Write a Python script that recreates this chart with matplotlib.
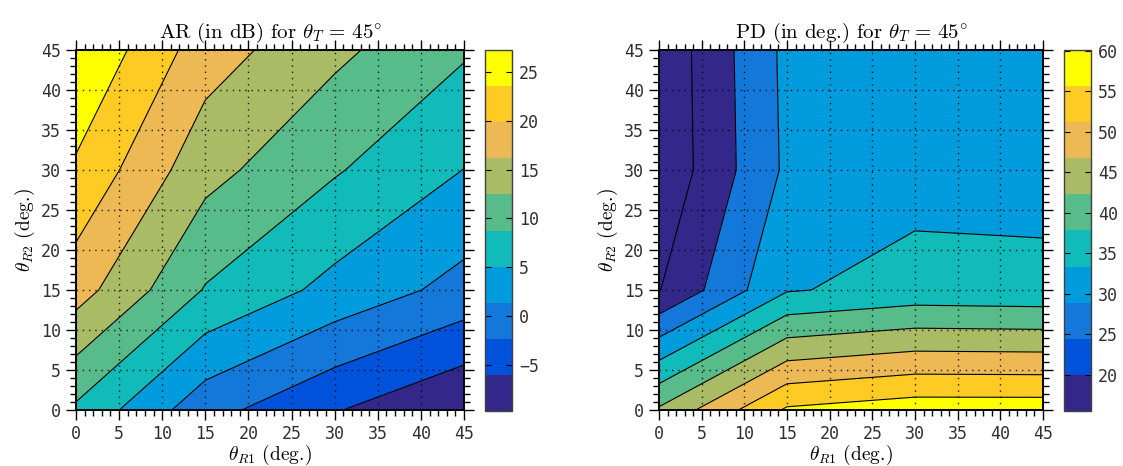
import numpy as np
import matplotlib
matplotlib.use("Agg")
import matplotlib.pyplot as plt
from matplotlib.colors import ListedColormap, Normalize
from matplotlib.ticker import MultipleLocator
import matplotlib.cm as cm

plt.rcParams['mathtext.fontset'] = 'cm'
plt.rcParams['axes.unicode_minus'] = False

# ---------------- data ----------------
theta_r1 = [0, 15, 30, 45]
theta_r2 = [0, 15, 30, 45]

# rows: theta_R2 (0,15,30,45), columns: theta_R1 (0,15,30,45)
ar_db = [
    [8.1, -1.0, -5.8, -9.76],
    [17.8, 8.5, 3.93, 0.1],
    [23.0, 13.7, 9.1, 5.0],
    [27.28, 17.93, 13.3, 9.2],
]
pd_deg = [
    [45.7, 60.7, 62.8, 62.8],
    [19.8, 34.6, 36.7, 36.3],
    [16.0, 30.9, 33.25, 33.3],
    [16.2, 31.2, 33.0, 33.0],
]

ar_cbar_range = [-9.76, 27.28]
pd_cbar_range = [15.55, 60.1]
ar_levels = list(np.linspace(-9.76, 27.28, 11)[1:-1])
pd_levels = [20, 25, 30, 35, 40, 45, 50, 55, 60]
ar_cbar_ticks = [-5, 0, 5, 10, 15, 20, 25]
pd_cbar_ticks = [20, 25, 30, 35, 40, 45, 50, 55, 60]

palette = ['#33288A', '#0052DA', '#1378D9', '#009BDD', '#10BBBA',
           '#57BB8A', '#A9BB65', '#ECB955', '#FECA24', '#FFFF00']
ar_fill_idx = [0, 1, 2, 3, 4, 5, 6, 7, 8, 9]
pd_fill_idx = [0, 0, 2, 3, 4, 5, 6, 7, 8, 9]

ar_title = r'AR (in dB) for $\theta_T\,=\,45^{\circ}$'
pd_title = r'PD (in deg.) for $\theta_T\,=\,45^{\circ}$'
xlab = r'$\theta_{R1}$ (deg.)'
ylab = r'$\theta_{R2}$ (deg.)'

# ---------------- figure ----------------
W, H = 1123, 466
fig = plt.figure(figsize=(W / 100, H / 100), dpi=100)

def fr(x0, y0, x1, y1):
    return [x0 / W, 1 - y1 / H, (x1 - x0) / W, (y1 - y0) / H]

tick_font = dict(family='DejaVu Sans Mono', size=12, color='#303030')
label_font = 'cmr10'

def style_labels(labels):
    for lab in labels:
        lab.set_fontfamily(tick_font['family'])
        lab.set_fontsize(tick_font['size'])
        lab.set_color(tick_font['color'])

def fmt(t):
    return ('\u2212' + str(-t)) if t < 0 else str(t)

def draw(ax_rect, cax_rect, Z, levels, fill_idx, crange, cticks, title):
    ax = fig.add_axes(ax_rect)
    X, Y = np.meshgrid(theta_r1, theta_r2)
    Z = np.array(Z)
    edges = [min(Z.min(), levels[0]) - 1] + list(levels) + [max(Z.max(), levels[-1]) + 1]
    cols = [palette[i] for i in fill_idx]
    ax.contourf(X, Y, Z, levels=edges, colors=cols, zorder=1)
    ax.contour(X, Y, Z, levels=levels, colors='k', linewidths=0.8,
               linestyles='solid', zorder=2)
    ax.set_xlim(0, 45)
    ax.set_ylim(0, 45)
    ax.xaxis.set_major_locator(MultipleLocator(5))
    ax.yaxis.set_major_locator(MultipleLocator(5))
    ax.xaxis.set_minor_locator(MultipleLocator(1))
    ax.yaxis.set_minor_locator(MultipleLocator(1))
    ax.tick_params(which='both', direction='out', top=True, right=True,
                   colors='k', width=1.0)
    ax.tick_params(which='major', length=7, pad=4)
    ax.tick_params(which='minor', length=4)
    style_labels(ax.get_xticklabels() + ax.get_yticklabels())
    ax.set_axisbelow(False)
    ax.grid(True, which='major', color='k', linestyle=(0, (1, 3.5)),
            linewidth=1.0, alpha=0.85)
    for s in ax.spines.values():
        s.set_linewidth(1.4)
    ax.set_title(title, fontsize=15, pad=9, fontfamily=label_font)
    ax.set_xlabel(xlab, fontsize=14, labelpad=0, fontfamily=label_font)
    ax.set_ylabel(ylab, fontsize=14, labelpad=3, fontfamily=label_font)

    cax = fig.add_axes(cax_rect)
    sm = cm.ScalarMappable(norm=Normalize(crange[0], crange[1]),
                           cmap=ListedColormap(palette))
    cb = fig.colorbar(sm, cax=cax, ticks=cticks)
    cb.set_ticklabels([fmt(t) for t in cticks])
    cb.outline.set_linewidth(1.0)
    cb.outline.set_edgecolor('#404040')
    cax.tick_params(direction='in', left=True, right=True, length=4,
                    width=0.8, pad=5)
    style_labels(cax.get_yticklabels())
    return ax

draw(fr(76, 50, 464, 410), fr(485, 50, 512, 411), ar_db, ar_levels,
     ar_fill_idx, ar_cbar_range, ar_cbar_ticks, ar_title)
draw(fr(659, 50, 1043, 410), fr(1064, 50, 1091, 411), pd_deg, pd_levels,
     pd_fill_idx, pd_cbar_range, pd_cbar_ticks, pd_title)

fig.savefig('out.png', dpi=100)
